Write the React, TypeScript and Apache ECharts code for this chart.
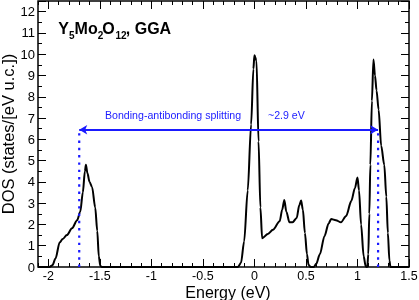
import React, { useEffect, useRef } from "react";
import * as echarts from "echarts";

// Energy (eV) and total DOS (states/[eV u.c.])
const energy = [
  -2.1, -1.99, -1.96, -1.93, -1.89, -1.86, -1.82, -1.77, -1.72, -1.69, -1.665, -1.645, -1.635,
  -1.62, -1.6, -1.575, -1.545, -1.525, -1.51, -1.495, -1.48,
  -0.16, -0.13, -0.1, -0.065, -0.032, -0.01, 0.0, 0.02, 0.04, 0.058, 0.075, 0.13, 0.18, 0.245,
  0.27, 0.29, 0.31, 0.34, 0.37, 0.41, 0.435, 0.453, 0.47, 0.49, 0.51, 0.525, 0.545, 0.575,
  0.6, 0.635, 0.68, 0.72, 0.745, 0.79, 0.84, 0.89, 0.94, 0.975, 1.0, 1.015, 1.035, 1.06, 1.08,
  1.095, 1.105, 1.115, 1.125, 1.14, 1.155, 1.17, 1.185, 1.205, 1.23, 1.26, 1.28, 1.295, 1.31,
  1.32, 1.5,
];
const dos = [
  0, 0, 0.08, 0.4, 1.15, 1.32, 1.5, 1.82, 2.2, 2.6, 3.5, 4.5, 4.8,
  4.4, 4.0, 3.75, 2.8, 1.7, 0.5, 0.05, 0,
  0, 0.2, 1.2, 3.6, 6.7, 9.3, 9.95, 9.7, 5.9, 2.8, 1.35, 1.55, 1.75, 2.15,
  2.7, 3.15, 2.6, 2.1, 2.1, 2.3, 2.9, 3.12, 2.7, 1.6, 0.6, 0.1, 0, 0,
  0.15, 0.6, 1.45, 2.05, 2.25, 2.2, 2.1, 2.4, 3.1, 3.7, 4.2, 3.6, 2.0, 0.5, 0.02,
  0, 0.6, 2.5, 4.8, 7.8, 9.75, 9.0, 8.3, 7.4, 5.7, 4.8, 3.3, 1.6, 0.3,
  0, 0,
];
const xMajorTicks = [-2, -1.5, -1, -0.5, 0, 0.5, 1, 1.5];
const bondingEdge = -1.7;
const antibondingEdge = 1.2;
const splittingLevel = 6.45;
const splittingText = "Bonding-antibonding splitting";
const splittingValue = "~2.9 eV";
const titleParts = [
  { t: "Y", sub: false },
  { t: "5", sub: true },
  { t: "Mo", sub: false },
  { t: "2", sub: true },
  { t: "O", sub: false },
  { t: "12", sub: true },
  { t: ", GGA", sub: false },
];

export default function App() {
  const ref = useRef<HTMLDivElement>(null);
  useEffect(() => {
    const chart = echarts.init(ref.current!, null, { renderer: "svg" });
    const font = "'Liberation Sans', Arial, Helvetica, sans-serif";
    const blue = "#1a1aff";
    const xBase = {
      type: "value",
      min: -2.1,
      max: 1.5,
      axisLine: { show: false, onZero: false },
      splitLine: { show: false },
    };
    const yBase = {
      type: "value",
      min: 0,
      max: 12.5,
      axisLine: { show: false, onZero: false },
      splitLine: { show: false },
    };
    const tick = (len: number) => ({
      show: true,
      inside: true,
      length: len,
      lineStyle: { color: "#000", width: 1 },
    });

    // title pieces (x offsets follow glyph widths of bold 16px / 10px)
    const widths: Record<string, number> = {
      Y: 10.7, "5": 5.6, Mo: 23.1, "2": 4.6, O: 13.2, "12": 10.3,
    };
    let tx = 58.3;
    const titleGraphics = titleParts.map((p) => {
      const g = {
        type: "text",
        x: tx,
        y: p.sub ? 35.4 : 28.6,
        style: {
          text: p.t,
          fill: "#000",
          font: `bold ${p.sub ? 10 : 16}px ${font}`,
          align: "left",
          verticalAlign: "middle",
        },
      };
      tx += widths[p.t] || 0;
      return g;
    });

    const points = energy.map((e, i) => [e, dos[i]]);

    chart.setOption({
      animation: false,
      grid: {
        left: 38,
        right: 10,
        top: 1,
        bottom: 33,
        show: true,
        borderColor: "#000",
        borderWidth: 1.5,
        backgroundColor: "transparent",
        outerBoundsMode: "none",
      },
      xAxis: [
        {
          ...xBase,
          position: "bottom",
          interval: 0.1,
          axisTick: tick(4),
          axisLabel: {
            customValues: xMajorTicks,
            color: "#000",
            fontSize: 12.5,
            lineHeight: 12.5,
            fontFamily: font,
            margin: 3,
            formatter: (v: number) => String(Math.round(v * 10) / 10),
          },
          name: "Energy (eV)",
          nameLocation: "middle",
          nameGap: 17.5,
          nameMoveOverlap: false,
          nameTextStyle: { color: "#000", fontSize: 16, lineHeight: 16, fontFamily: font, padding: [0, 0, 0, 9] },
        },
        {
          ...xBase,
          position: "bottom",
          axisTick: { ...tick(8), customValues: xMajorTicks },
          axisLabel: { show: false },
        },
        {
          ...xBase,
          position: "top",
          interval: 0.1,
          axisTick: tick(4),
          axisLabel: { show: false },
        },
        {
          ...xBase,
          position: "top",
          axisTick: { ...tick(8), customValues: xMajorTicks },
          axisLabel: { show: false },
        },
      ],
      yAxis: [
        {
          ...yBase,
          position: "left",
          interval: 1,
          axisTick: tick(8),
          axisLabel: {
            color: "#000",
            fontSize: 13,
            fontFamily: font,
            margin: 3,
            formatter: (v: number) => (Number.isInteger(v) ? String(v) : ""),
          },
          name: "DOS (states/[eV u.c.])",
          nameLocation: "middle",
          nameGap: 22,
          nameMoveOverlap: false,
          nameTextStyle: { color: "#000", fontSize: 16.5, fontFamily: font },
        },
        {
          ...yBase,
          position: "left",
          interval: 0.5,
          axisTick: tick(4),
          axisLabel: { show: false },
        },
        {
          ...yBase,
          position: "right",
          interval: 1,
          axisTick: tick(8),
          axisLabel: { show: false },
        },
        {
          ...yBase,
          position: "right",
          interval: 0.5,
          axisTick: tick(4),
          axisLabel: { show: false },
        },
      ],
      series: [
        {
          type: "line",
          xAxisIndex: 0,
          yAxisIndex: 0,
          data: points,
          showSymbol: false,
          smooth: 0.3,
          smoothMonotone: "x",
          lineStyle: { color: "#000", width: 2 },
          z: 2,
        },
        {
          type: "line",
          xAxisIndex: 0,
          yAxisIndex: 0,
          data: [[bondingEdge, 0], [bondingEdge, splittingLevel]],
          showSymbol: false,
          lineStyle: { color: blue, width: 2.2, type: [2.4, 4.9] },
          z: 3,
          markLine: {
            silent: true,
            symbol: ["arrow", "arrow"],
            symbolSize: [7, 8],
            label: { show: false },
            lineStyle: { color: blue, width: 2, type: "solid" },
            data: [[{ coord: [bondingEdge, splittingLevel] }, { coord: [antibondingEdge, splittingLevel] }]],
          },
        },
        {
          type: "line",
          xAxisIndex: 0,
          yAxisIndex: 0,
          data: [[antibondingEdge, 0], [antibondingEdge, splittingLevel]],
          showSymbol: false,
          lineStyle: { color: blue, width: 2.2, type: [2.4, 4.9] },
          z: 3,
        },
      ],
      graphic: [
        ...titleGraphics,
        {
          type: "text",
          x: 105,
          y: 115,
          style: { text: splittingText, fill: blue, font: `10.6px ${font}`, align: "left", verticalAlign: "middle" },
        },
        {
          type: "text",
          x: 268,
          y: 115,
          style: { text: splittingValue, fill: blue, font: `10.6px ${font}`, align: "left", verticalAlign: "middle" },
        },
      ],
    });
    return () => chart.dispose();
  }, []);
  return <div ref={ref} style={{ position: "fixed", left: 0, top: 0, width: 419, height: 300 }} />;
}
